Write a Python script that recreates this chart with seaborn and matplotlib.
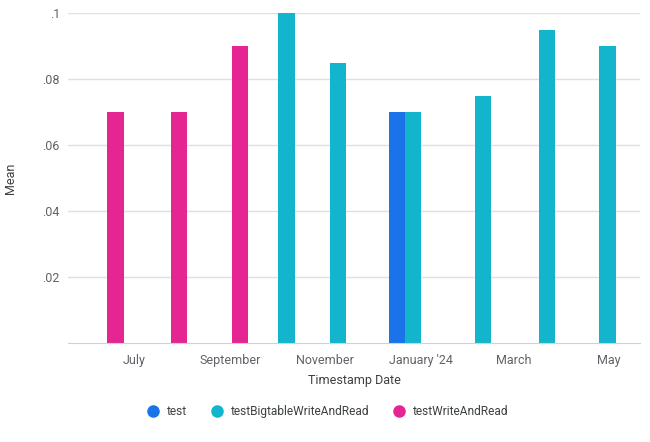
import datetime as dt
import pandas as pd
import seaborn as sns
import matplotlib.pyplot as plt
import matplotlib.dates as mdates
from matplotlib.lines import Line2D

sns.set_style("white")
plt.rcParams["font.family"] = ["Roboto", "DejaVu Sans"]

# -------------------------
# DATA
# -------------------------

series = ["testWriteAndRead", "testWriteAndRead", "testWriteAndRead",
          "testBigtableWriteAndRead", "testBigtableWriteAndRead",
          "test", "testBigtableWriteAndRead",
          "testBigtableWriteAndRead", "testBigtableWriteAndRead", "testBigtableWriteAndRead"]
dates = ["2023-06-09", "2023-07-20", "2023-08-28",
         "2023-10-07", "2023-11-09",
         "2023-12-27", "2023-12-27",
         "2024-02-10", "2024-03-22", "2024-04-30"]
means = [0.07, 0.07, 0.09,
         0.1, 0.085,
         0.07, 0.07,
         0.075, 0.095, 0.09]

hue_order = ["test", "testBigtableWriteAndRead", "testWriteAndRead"]
colors = ["#1A73E8", "#12B5CB", "#E52592"]

tick_dates = ["2023-07-01", "2023-09-01", "2023-11-01", "2024-01-01", "2024-03-01", "2024-05-01"]
tick_labels = ["July", "September", "November", "January '24", "March", "May"]
y_ticks = [0.02, 0.04, 0.06, 0.08, 0.1]
y_labels = [".02", ".04", ".06", ".08", ".1"]

df = pd.DataFrame({"series": series, "date": pd.to_datetime(dates), "mean": means})
df["x"] = mdates.date2num(df["date"])

# -------------------------
# PLOT
# -------------------------

text_col = "#5f6368"
fig, ax = plt.subplots(figsize=(6.5, 4.42), dpi=100)
fig.subplots_adjust(left=0.105, right=0.985, top=0.97, bottom=0.225)

sns.barplot(data=df, x="x", y="mean", hue="series", hue_order=hue_order,
            palette=colors, native_scale=True, dodge=True, width=0.94,
            errorbar=None, saturation=1, linewidth=0, ax=ax, legend=False)

ax.set_xlim(mdates.date2num(dt.date(2023, 5, 20)), mdates.date2num(dt.date(2024, 5, 21)))
ax.set_ylim(0, 0.1)
ax.set_xticks(mdates.date2num(pd.to_datetime(tick_dates)))
ax.set_xticklabels(tick_labels)
ax.set_yticks(y_ticks)
ax.set_yticklabels(y_labels)
ax.tick_params(axis="x", length=0, labelsize=9, colors=text_col, pad=8)
ax.tick_params(axis="y", length=0, labelsize=9, colors=text_col, pad=6)

ax.grid(axis="y", color="#e0e0e0", linewidth=1)
ax.set_axisbelow(True)
for s in ["top", "right", "left"]:
    ax.spines[s].set_visible(False)
ax.spines["bottom"].set_color("#c6d4ea")

ax.set_xlabel("Timestamp Date", fontsize=9, color="#3c4043", labelpad=5)
ax.set_ylabel("Mean", fontsize=9, color="#3c4043", labelpad=18)

handles = [Line2D([], [], marker="o", linestyle="", markersize=8,
                  markerfacecolor=c, markeredgecolor=c) for c in colors]
fig.legend(handles, hue_order, loc="lower center", bbox_to_anchor=(0.5, 0.03),
           ncol=3, frameon=False, fontsize=8.6, handletextpad=0.15, columnspacing=1.5,
           labelcolor="#3c4043")

plt.savefig("out.png", dpi=100)
